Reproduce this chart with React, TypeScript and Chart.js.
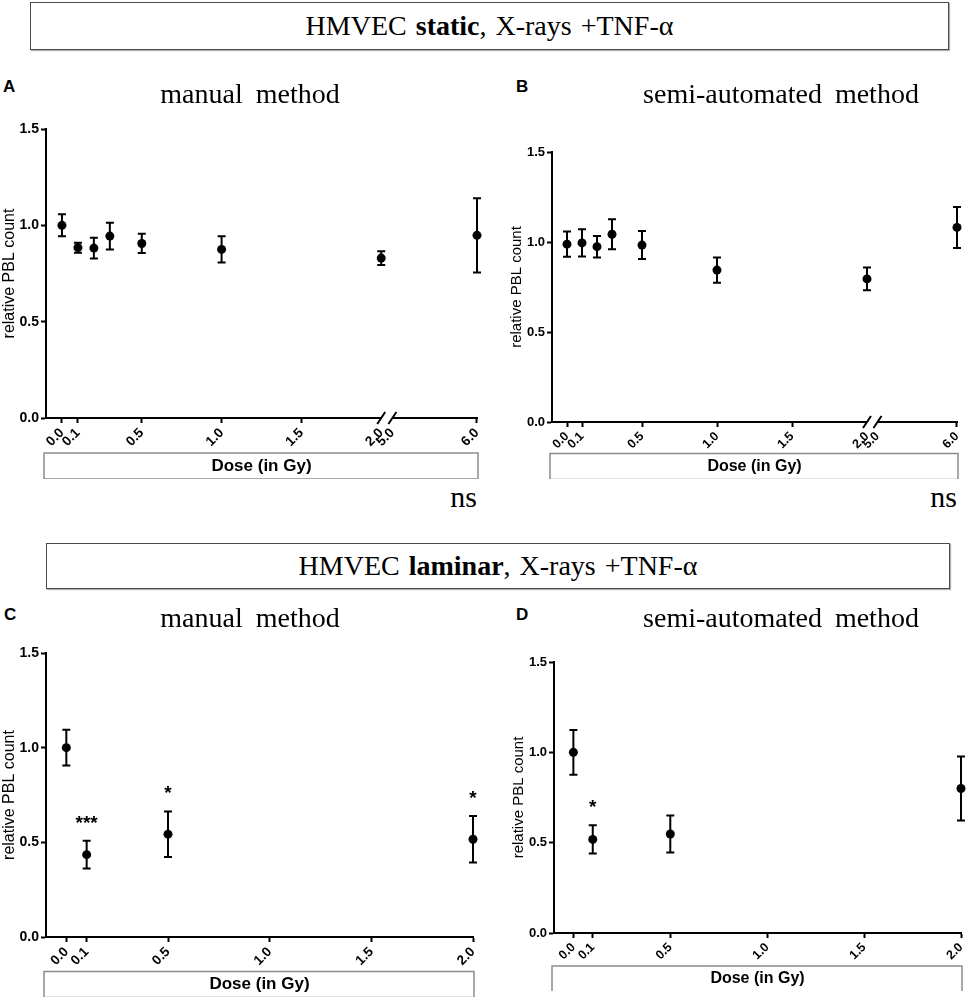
import { useEffect, useRef } from "react";
import { Chart, registerables } from "chart.js";

Chart.register(...registerables);

const FONT_SANS = '"Liberation Sans", Arial, sans-serif';
const FONT_SERIF = '"Liberation Serif", "Times New Roman", serif';

Chart.defaults.font.family = FONT_SANS;
Chart.defaults.color = "#000";

// static flow: the dose axis is broken between 2.0 and 5.0 Gy
const staticDoses = [0, 0.1, 0.2, 0.3, 0.5, 1.0, 2.0, 6.0];
const staticTickDoses = [0, 0.1, 0.5, 1.0, 1.5, 2.0, 5.0, 6.0];
const manualStaticMean = [1.0, 0.884, 0.882, 0.944, 0.906, 0.875, 0.83, 0.948];
const manualStaticErr = [0.057, 0.026, 0.054, 0.07, 0.05, 0.068, 0.036, 0.193];
const semiStaticMean = [0.988, 0.995, 0.974, 1.043, 0.983, 0.844, 0.795, 1.081];
const semiStaticErr = [0.07, 0.076, 0.06, 0.083, 0.078, 0.07, 0.063, 0.114];

// laminar flow
const laminarDoses = [0, 0.1, 0.5, 2.0];
const laminarTickDoses = [0, 0.1, 0.5, 1.0, 1.5, 2.0];
const manualLaminarMean = [1.0, 0.435, 0.543, 0.516];
const manualLaminarErr = [0.094, 0.073, 0.12, 0.123];
const manualLaminarStars = ["", "***", "*", "*"];
const semiLaminarMean = [1.0, 0.518, 0.548, 0.8];
const semiLaminarErr = [0.124, 0.078, 0.103, 0.177];
const semiLaminarStars = ["", "*", "", ""];

const yTicks = [0, 0.5, 1.0, 1.5];

const BREAK_FROM = 2.0;
const BREAK_TO = 5.0;
const BREAK_GAP = 0.07;
const AFTER_BREAK = 0.53;

function axisPos(dose: number, broken: boolean) {
  if (!broken || dose <= BREAK_FROM) return dose;
  return BREAK_FROM + BREAK_GAP + (dose - BREAK_TO) * AFTER_BREAK;
}

type Area = { left: number; top: number; right: number; bottom: number };

type PanelProps = {
  doses: number[];
  means: number[];
  errs: number[];
  stars?: string[];
  tickDoses: number[];
  broken: boolean;
  xMax: number;
  canvasLeft: number;
  canvasTop: number;
  area: Area;
  doseOffset: number;
  yTitleCenter: number;
  yTickFont: number;
  xTickFont: number;
  yTitleFont: number;
  doseFont: number;
};

function DosePanel(p: PanelProps) {
  const ref = useRef<HTMLCanvasElement | null>(null);
  const padRight = 16;
  const xScaleH = p.doseOffset + (p.doseFont * 1.2) / 2;
  const width = p.area.right + padRight - p.canvasLeft;
  const height = Math.ceil(p.area.bottom + xScaleH + 2 - p.canvasTop);
  const padBottom = height - (p.area.bottom + xScaleH - p.canvasTop);

  useEffect(() => {
    if (!ref.current) return;
    const breakTicks = p.broken ? [axisPos(BREAK_FROM, true), axisPos(BREAK_TO, true)] : [];
    const yTitleLine = p.yTitleFont * 1.2;

    const decorations = {
      id: "doseDecorations",
      beforeDatasetsDraw(chart: any) {
        const { ctx, scales } = chart;
        const { x, y } = scales;
        ctx.save();
        ctx.strokeStyle = "#000";
        ctx.lineWidth = 2;
        p.doses.forEach((d, i) => {
          const px = x.getPixelForValue(axisPos(d, p.broken));
          const top = y.getPixelForValue(p.means[i] + p.errs[i]);
          const bot = y.getPixelForValue(p.means[i] - p.errs[i]);
          ctx.beginPath();
          ctx.moveTo(px, top);
          ctx.lineTo(px, bot);
          ctx.moveTo(px - 4, top);
          ctx.lineTo(px + 4, top);
          ctx.moveTo(px - 4, bot);
          ctx.lineTo(px + 4, bot);
          ctx.stroke();
          const star = p.stars ? p.stars[i] : "";
          if (star) {
            ctx.fillStyle = "#000";
            ctx.font = `bold 19px ${FONT_SANS}`;
            ctx.textAlign = "center";
            ctx.textBaseline = "alphabetic";
            ctx.fillText(star, px, top - 12);
          }
        });
        ctx.restore();
      },
      afterDraw(chart: any) {
        const { ctx, chartArea, scales } = chart;
        ctx.save();
        const cy = chartArea.bottom + p.doseOffset;
        ctx.strokeStyle = "#8c8c8c";
        ctx.lineWidth = 1.5;
        ctx.strokeRect(chartArea.left - 2, cy - 13, chartArea.right - chartArea.left + 3, 26);
        if (p.broken) {
          const x1 = scales.x.getPixelForValue(axisPos(BREAK_FROM, true));
          const x2 = scales.x.getPixelForValue(axisPos(BREAK_TO, true));
          const yb = chartArea.bottom;
          ctx.fillStyle = "#fff";
          ctx.fillRect(x1, yb - 2, x2 - x1, 4);
          ctx.strokeStyle = "#000";
          ctx.lineWidth = 2;
          ctx.beginPath();
          [x1, x2].forEach((bx) => {
            ctx.moveTo(bx - 4, yb + 6);
            ctx.lineTo(bx + 4, yb - 6);
          });
          ctx.stroke();
        }
        ctx.restore();
      },
    };

    const chart = new Chart(ref.current, {
      type: "scatter",
      data: {
        datasets: [
          {
            data: p.doses.map((d, i) => ({ x: axisPos(d, p.broken), y: p.means[i] })),
            pointRadius: 4.5,
            pointHoverRadius: 4.5,
            pointBackgroundColor: "#000",
            pointBorderWidth: 0,
            showLine: false,
            clip: false,
          } as any,
        ],
      },
      options: {
        responsive: false,
        animation: false,
        events: [],
        layout: { padding: { left: 0, top: p.area.top - p.canvasTop, right: padRight, bottom: padBottom } },
        plugins: { legend: { display: false }, tooltip: { enabled: false } },
        scales: {
          x: {
            type: "linear",
            min: -0.1,
            max: p.xMax,
            afterBuildTicks: (s: any) => {
              s.ticks = p.tickDoses.map((d) => ({ value: axisPos(d, p.broken) }));
            },
            afterFit: (s: any) => {
              s.height = xScaleH;
            },
            ticks: {
              autoSkip: false,
              minRotation: 45,
              maxRotation: 45,
              padding: 2,
              color: "#000",
              font: { size: p.xTickFont, weight: "bold" },
              callback: (_v: any, i: number) => p.tickDoses[i].toFixed(1),
            },
            grid: {
              display: true,
              drawOnChartArea: false,
              drawTicks: true,
              tickLength: 5,
              tickWidth: 2,
              tickColor: (c: any) => (c.tick && breakTicks.includes(c.tick.value) ? "rgba(0,0,0,0)" : "#000"),
            },
            border: { display: true, color: "#000", width: 2 },
            title: {
              display: true,
              text: "Dose (in Gy)",
              color: "#000",
              font: { size: p.doseFont, weight: "bold" },
              padding: 0,
            },
          },
          y: {
            type: "linear",
            min: 0,
            max: 1.5,
            afterBuildTicks: (s: any) => {
              s.ticks = yTicks.map((v) => ({ value: v }));
            },
            afterFit: (s: any) => {
              s.width = p.area.left - p.canvasLeft;
            },
            ticks: {
              padding: 2,
              color: "#000",
              font: { size: p.yTickFont, weight: "bold" },
              callback: (_v: any, i: number) => yTicks[i].toFixed(1),
            },
            grid: {
              display: true,
              drawOnChartArea: false,
              drawTicks: true,
              tickLength: 5,
              tickWidth: 2,
              tickColor: "#000",
            },
            border: { display: true, color: "#000", width: 2 },
            title: {
              display: true,
              text: "relative PBL count",
              color: "#000",
              font: { size: p.yTitleFont },
              padding: { top: Math.max(p.yTitleCenter - p.canvasLeft - yTitleLine / 2, 0), bottom: 0 },
            },
          },
        },
      } as any,
      plugins: [decorations],
    });
    return () => chart.destroy();
  }, []);

  return (
    <canvas
      ref={ref}
      width={width}
      height={height}
      style={{ position: "absolute", left: p.canvasLeft, top: p.canvasTop, width, height }}
    />
  );
}

function Header({ left, top, width, height, strong }: { left: number; top: number; width: number; height: number; strong: string }) {
  return (
    <div
      style={{
        position: "absolute",
        left,
        top,
        width,
        height,
        boxSizing: "border-box",
        border: "1.5px solid #4a4a4a",
        boxShadow: "1px 1px 1px #b0b0b0",
        display: "flex",
        alignItems: "center",
        justifyContent: "center",
        fontFamily: FONT_SERIF,
        fontSize: 28,
        wordSpacing: 2,
        whiteSpace: "nowrap",
      }}
    >
      <span>
        HMVEC <b>{strong}</b>, X-rays +TNF-α
      </span>
    </div>
  );
}

function TextAt({ x, top, text, size, serif, bold, align }: { x: number; top: number; text: string; size: number; serif?: boolean; bold?: boolean; align: "left" | "center" | "right" }) {
  const shift = align === "left" ? "0" : align === "center" ? "-50%" : "-100%";
  return (
    <div
      style={{
        position: "absolute",
        left: x,
        top,
        transform: `translateX(${shift})`,
        fontFamily: serif ? FONT_SERIF : FONT_SANS,
        fontSize: size,
        lineHeight: `${size}px`,
        fontWeight: bold ? "bold" : "normal",
        wordSpacing: serif ? 6 : 0,
        whiteSpace: "nowrap",
      }}
    >
      {text}
    </div>
  );
}

export default function App() {
  return (
    <div
      style={{
        position: "absolute",
        left: 0,
        top: 0,
        width: 968,
        height: 1001,
        overflow: "hidden",
        background: "#fff",
        color: "#000",
      }}
    >
      <DosePanel
        doses={staticDoses}
        means={manualStaticMean}
        errs={manualStaticErr}
        tickDoses={staticTickDoses}
        broken
        xMax={2.6}
        canvasLeft={0}
        canvasTop={100}
        area={{ left: 46, top: 129, right: 477, bottom: 418 }}
        doseOffset={48}
        yTitleCenter={8.5}
        yTickFont={14}
        xTickFont={13.5}
        yTitleFont={16}
        doseFont={17}
      />
      <DosePanel
        doses={staticDoses}
        means={semiStaticMean}
        errs={semiStaticErr}
        tickDoses={staticTickDoses}
        broken
        xMax={2.6}
        canvasLeft={484}
        canvasTop={120}
        area={{ left: 552, top: 152, right: 957, bottom: 422 }}
        doseOffset={44.5}
        yTitleCenter={517}
        yTickFont={13}
        xTickFont={12.5}
        yTitleFont={15}
        doseFont={16}
      />
      <DosePanel
        doses={laminarDoses}
        means={manualLaminarMean}
        errs={manualLaminarErr}
        stars={manualLaminarStars}
        tickDoses={laminarTickDoses}
        broken={false}
        xMax={2.0}
        canvasLeft={0}
        canvasTop={630}
        area={{ left: 46, top: 653, right: 473, bottom: 937 }}
        doseOffset={47.5}
        yTitleCenter={8.7}
        yTickFont={14}
        xTickFont={13.5}
        yTitleFont={16}
        doseFont={17}
      />
      <DosePanel
        doses={laminarDoses}
        means={semiLaminarMean}
        errs={semiLaminarErr}
        stars={semiLaminarStars}
        tickDoses={laminarTickDoses}
        broken={false}
        xMax={2.0}
        canvasLeft={484}
        canvasTop={640}
        area={{ left: 554, top: 662, right: 961, bottom: 933 }}
        doseOffset={46}
        yTitleCenter={519}
        yTickFont={13}
        xTickFont={12.5}
        yTitleFont={15}
        doseFont={16}
      />

      <Header left={30} top={2} width={919} height={48} strong="static" />
      <Header left={46} top={543} width={904} height={46} strong="laminar" />

      <TextAt x={3} top={78} text="A" size={17} bold align="left" />
      <TextAt x={516} top={78} text="B" size={17} bold align="left" />
      <TextAt x={4} top={606} text="C" size={17} bold align="left" />
      <TextAt x={516} top={606} text="D" size={17} bold align="left" />

      <TextAt x={250} top={80} text="manual method" size={28} serif align="center" />
      <TextAt x={781} top={80} text="semi-automated method" size={28} serif align="center" />
      <TextAt x={250} top={604} text="manual method" size={28} serif align="center" />
      <TextAt x={781} top={604} text="semi-automated method" size={28} serif align="center" />

      <TextAt x={477} top={482} text="ns" size={30} serif align="right" />
      <TextAt x={957} top={482} text="ns" size={30} serif align="right" />
    </div>
  );
}
